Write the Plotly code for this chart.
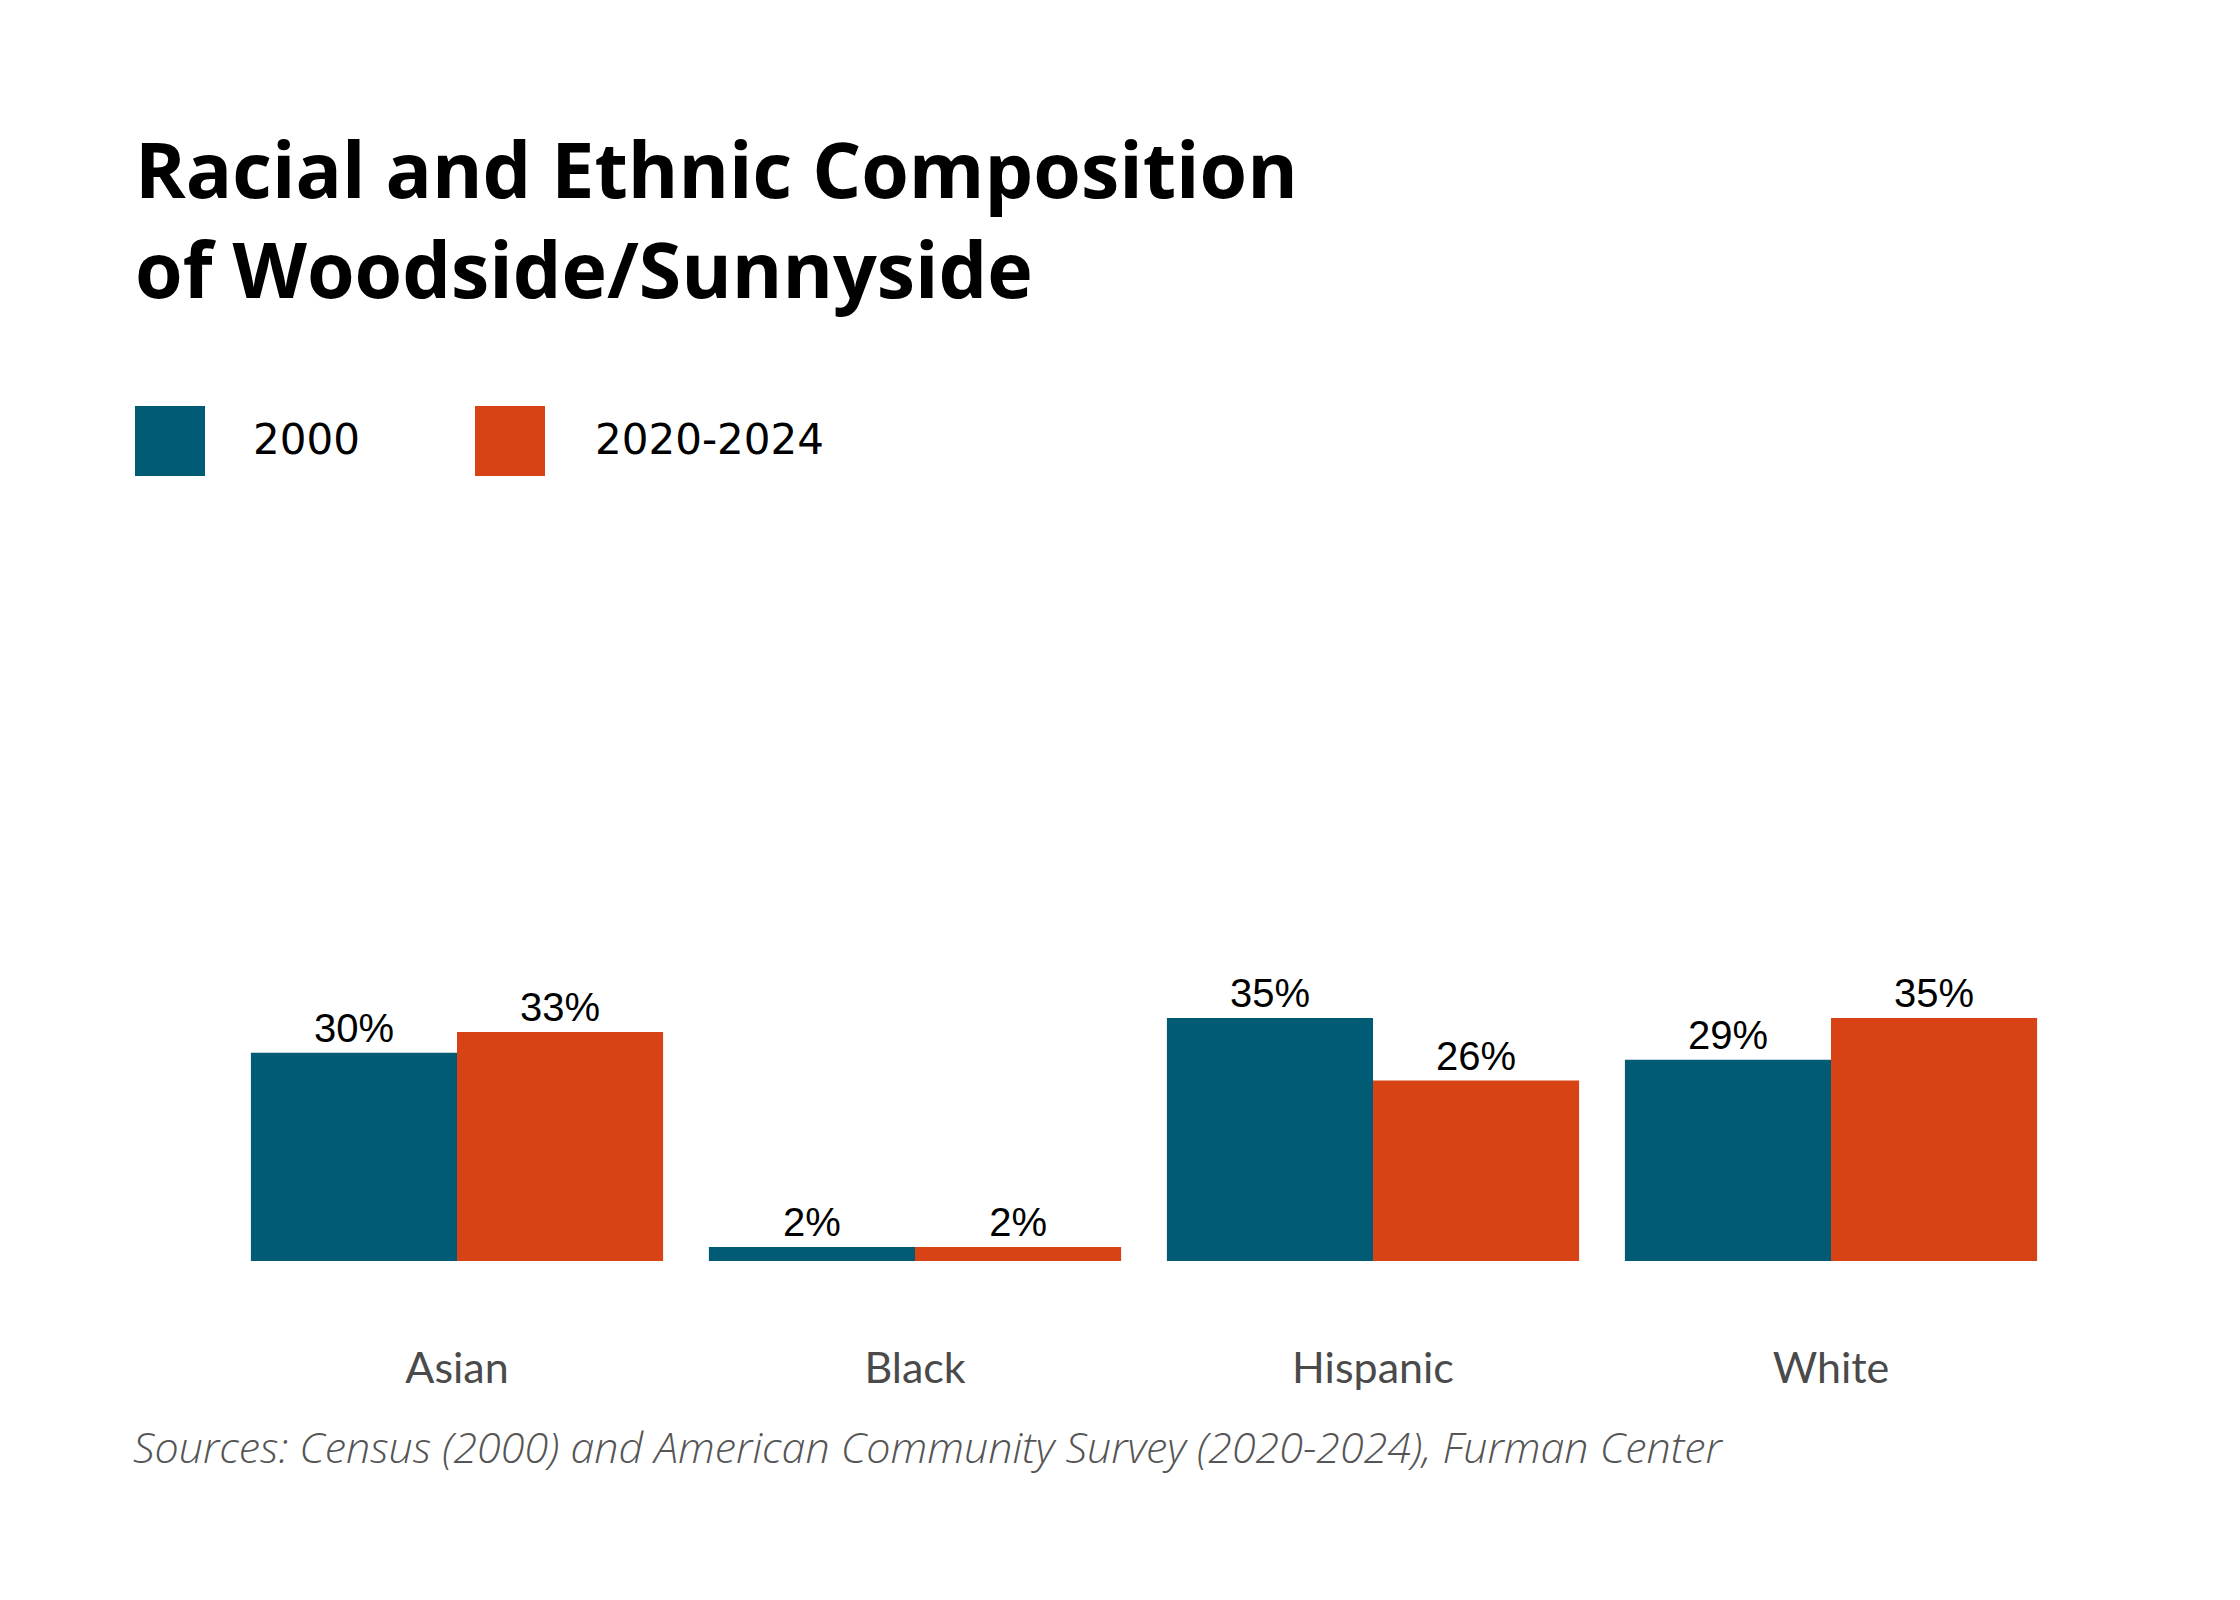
import plotly.graph_objects as go

# data
categories = ["Asian", "Black", "Hispanic", "White"]
share_2000 = [0.30, 0.02, 0.35, 0.29]
share_2020_2024 = [0.33, 0.02, 0.26, 0.35]
series_names = ["2000", "2020-2024"]
colors = ["#025B74", "#D84315"]

W, H = 2240, 1600
plot_l, plot_r, plot_t, plot_b = 220, 2052, 559, 1253


# helpers to place things outside the plot in pixel terms
def px_x(px):
    return (px - plot_l) / (plot_r - plot_l)


def px_y(py):
    return (plot_b - py) / (plot_b - plot_t)


fig = go.Figure()
for name, vals, col in zip(series_names, [share_2000, share_2020_2024], colors):
    fig.add_trace(
        go.Bar(
            x=categories,
            y=vals,
            name=name,
            marker=dict(color=col, line=dict(width=0)),
            texttemplate="%{y:.0%}",
            textposition="outside",
            textfont=dict(family="Liberation Sans, Arial", size=40, color="#000000"),
            cliponaxis=False,
            showlegend=False,
        )
    )

# legend drawn by hand (big squares)
legend_items = [(127, 243), (467, 585)]
for (sq_x, txt_x), name, col in zip(legend_items, series_names, colors):
    fig.add_shape(
        type="rect",
        xref="paper",
        yref="paper",
        x0=px_x(sq_x),
        x1=px_x(sq_x + 70),
        y0=px_y(468),
        y1=px_y(398),
        fillcolor=col,
        line=dict(width=0),
    )
    fig.add_annotation(
        text=name,
        xref="paper",
        yref="paper",
        x=px_x(txt_x),
        y=px_y(431),
        xanchor="left",
        yanchor="middle",
        showarrow=False,
        font=dict(family="DejaVu Sans", size=42, color="#000000"),
    )

# source note
fig.add_annotation(
    text="<i>Sources: Census (2000) and American Community Survey (2020-2024), Furman Center</i>",
    xref="paper",
    yref="paper",
    x=px_x(123),
    y=px_y(1438),
    xanchor="left",
    yanchor="middle",
    showarrow=False,
    font=dict(family="Open Sans", size=43, color="#555555", weight=300),
)

fig.update_layout(
    width=W,
    height=H,
    margin=dict(l=plot_l, r=W - plot_r, t=plot_t, b=H - plot_b),
    paper_bgcolor="white",
    plot_bgcolor="white",
    barmode="group",
    bargap=0.1,
    bargroupgap=0,
    title=dict(
        text="Racial and Ethnic Composition<br>of Woodside/Sunnyside",
        xref="container",
        yref="container",
        x=127 / W,
        y=1 - 190 / H,
        xanchor="left",
        yanchor="top",
        font=dict(family="Open Sans", size=77, color="#000000", weight="bold"),
    ),
)
fig.update_xaxes(
    showgrid=False,
    showline=False,
    zeroline=False,
    ticks="",
    ticklabelstandoff=78,
    tickfont=dict(family="Lato", size=43, color="#4A4A4A"),
)
fig.update_yaxes(visible=False, range=[0, 1], showgrid=False, zeroline=False)

fig.write_html("out.html")
